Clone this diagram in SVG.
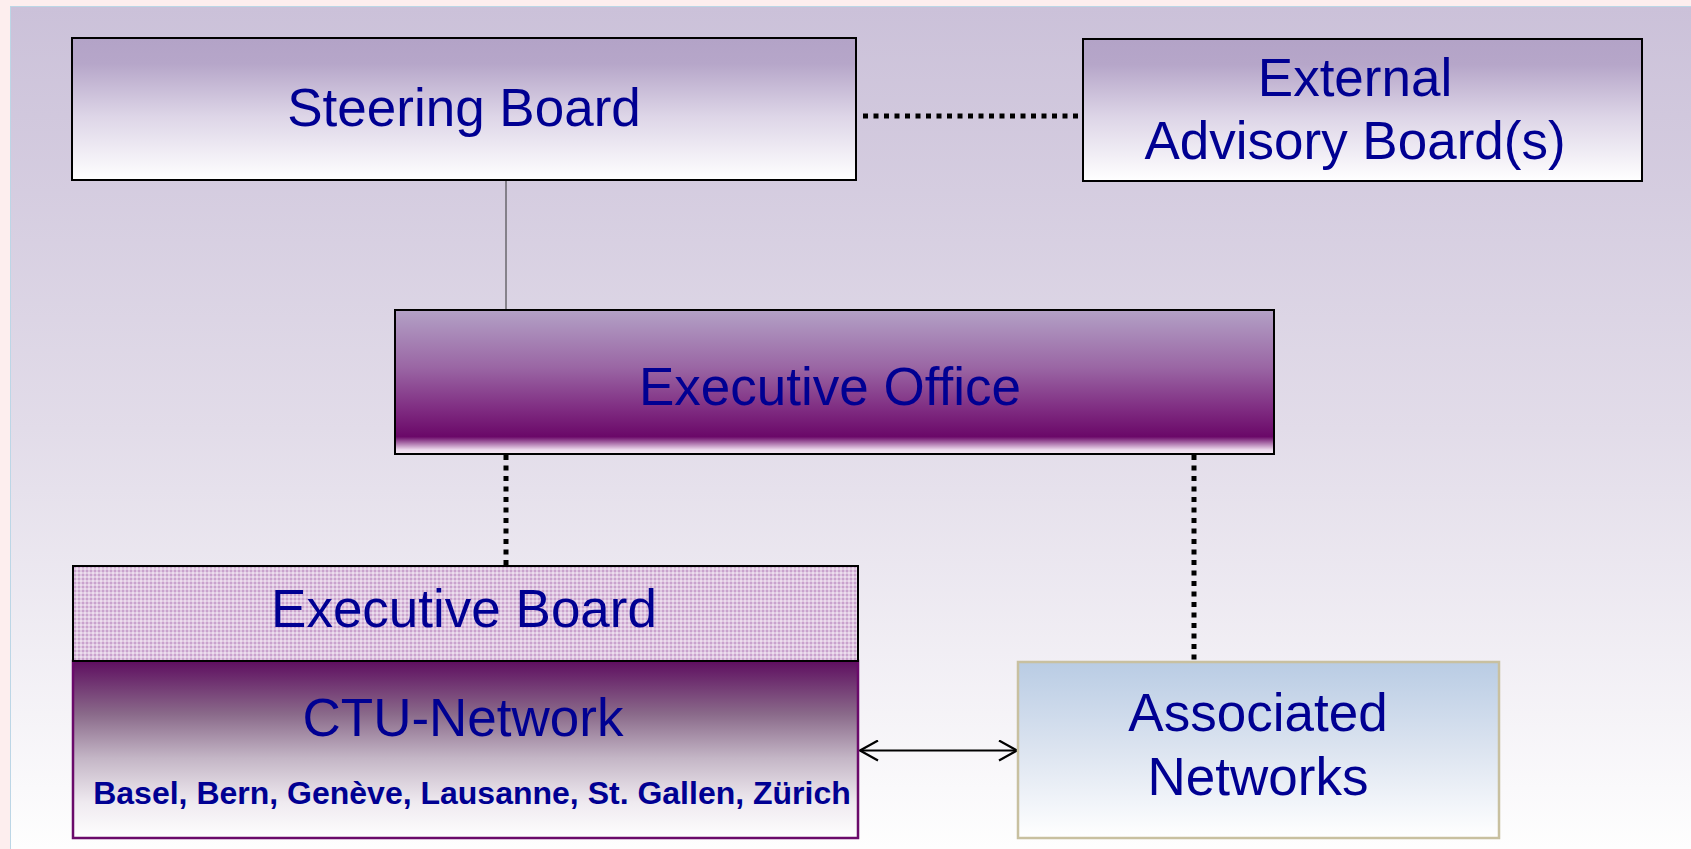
<svg xmlns="http://www.w3.org/2000/svg" width="1691" height="849" viewBox="0 0 1691 849">
<defs>
<style>
.t{font-family:"Liberation Sans",Arial,sans-serif;font-size:53px;fill:#000092;text-anchor:middle}
.b{font-family:"Liberation Sans",Arial,sans-serif;font-size:32px;font-weight:bold;fill:#000092;text-anchor:middle}
.dot{fill:none;stroke:#000;stroke-width:5;stroke-dasharray:5 5.5}
</style>
<linearGradient id="bg" x1="0" y1="0" x2="0" y2="1">
<stop offset="0" stop-color="#cbc1d9"/>
<stop offset="0.5" stop-color="#e2dce9"/>
<stop offset="1" stop-color="#fefefe"/>
</linearGradient>
<linearGradient id="gWhite" x1="0" y1="0" x2="0" y2="1">
<stop offset="0" stop-color="#b3a3c7"/>
<stop offset="0.18" stop-color="#b6a6c9"/>
<stop offset="0.55" stop-color="#ddd5e7"/>
<stop offset="1" stop-color="#ffffff"/>
</linearGradient>
<linearGradient id="gOffice" x1="0" y1="0" x2="0" y2="1">
<stop offset="0" stop-color="#b3a1c6"/>
<stop offset="0.4" stop-color="#9a66a4"/>
<stop offset="0.7" stop-color="#7e2a80"/>
<stop offset="0.88" stop-color="#6a0868"/>
<stop offset="0.97" stop-color="#ecd8ec"/>
<stop offset="1" stop-color="#f6eaf6"/>
</linearGradient>
<linearGradient id="gCTU" x1="0" y1="0" x2="0" y2="1">
<stop offset="0" stop-color="#5e0e60"/>
<stop offset="0.3" stop-color="#8a6a8a"/>
<stop offset="0.55" stop-color="#c4b6c6"/>
<stop offset="0.8" stop-color="#efeaf0"/>
<stop offset="1" stop-color="#fefefe"/>
</linearGradient>
<linearGradient id="gAssoc" x1="0" y1="0" x2="0" y2="1">
<stop offset="0" stop-color="#b9cce4"/>
<stop offset="0.5" stop-color="#dce4f0"/>
<stop offset="1" stop-color="#ffffff"/>
</linearGradient>
<pattern id="check" x="0" y="0" width="4" height="4" patternUnits="userSpaceOnUse">
<rect width="4" height="4" fill="#c9a2cd"/>
<rect width="4" height="2" fill="#ffffff" fill-opacity="0.4"/>
<rect width="2" height="4" fill="#ffffff" fill-opacity="0.4"/>
</pattern>
<marker id="arr" viewBox="0 0 20 22" refX="19" refY="11" markerWidth="20" markerHeight="22" markerUnits="userSpaceOnUse" orient="auto-start-reverse">
<path d="M1,1 L19,11 L1,21" fill="none" stroke="#000" stroke-width="2.2"/>
</marker>
</defs>
<rect width="1691" height="849" fill="#fdeeee"/>
<rect x="10.5" y="6.5" width="1681" height="843" fill="url(#bg)" stroke="#bcd6e6" stroke-width="1"/>

<g id="connectors">
<line x1="506" y1="181" x2="506" y2="311" stroke="#333" stroke-width="1"/>
<line class="dot" x1="863" y1="116" x2="1083" y2="116"/>
<line class="dot" x1="506" y1="455" x2="506" y2="566"/>
<line class="dot" x1="1194" y1="455" x2="1194" y2="662"/>
<line x1="860" y1="750.5" x2="1017" y2="750.5" stroke="#000" stroke-width="2" marker-start="url(#arr)" marker-end="url(#arr)"/>
</g>

<g id="steering-board">
<rect x="72" y="38" width="784" height="142" fill="url(#gWhite)" stroke="#000" stroke-width="2"/>
<text class="t" x="464" y="126">Steering Board</text>
</g>

<g id="external-advisory">
<rect x="1083" y="39" width="559" height="142" fill="url(#gWhite)" stroke="#000" stroke-width="2"/>
<text class="t" x="1355" y="96">External</text>
<text class="t" x="1355" y="159">Advisory Board(s)</text>
</g>

<g id="executive-office">
<rect x="395" y="310" width="879" height="144" fill="url(#gOffice)" stroke="#000" stroke-width="2"/>
<text class="t" x="830" y="405">Executive Office</text>
</g>

<g id="ctu-network">
<rect x="73" y="661" width="785" height="177" fill="url(#gCTU)" stroke="#6a0a6a" stroke-width="2.5"/>
<text class="t" x="463" y="736">CTU-Network</text>
<text class="b" x="472" y="804">Basel, Bern, Genève, Lausanne, St. Gallen, Zürich</text>
</g>

<g id="executive-board">
<rect x="73" y="566" width="785" height="95" fill="url(#check)" stroke="#000" stroke-width="2"/>
<text class="t" x="464" y="627">Executive Board</text>
</g>

<g id="associated-networks">
<rect x="1018" y="662" width="481" height="176" fill="url(#gAssoc)" stroke="#c8c0a0" stroke-width="2.5"/>
<text class="t" x="1258" y="731">Associated</text>
<text class="t" x="1258" y="795">Networks</text>
</g>
</svg>
